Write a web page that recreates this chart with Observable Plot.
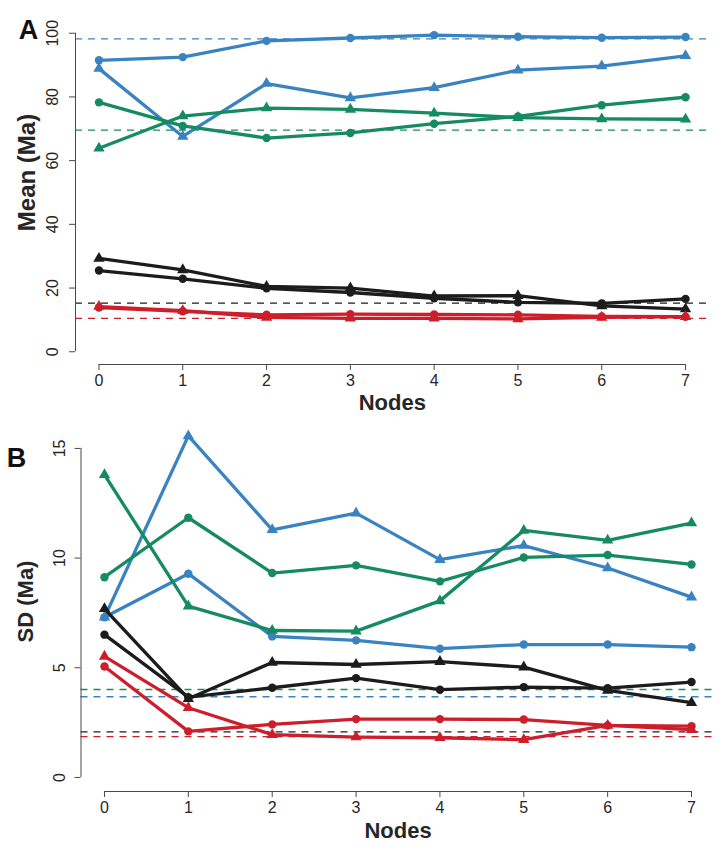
<!DOCTYPE html>
<html><head><meta charset="utf-8">
<script src="https://cdn.jsdelivr.net/npm/d3@7"></script>
<script src="https://cdn.jsdelivr.net/npm/@observablehq/plot@0.6"></script>
<style>
body{margin:0;background:#fff;}
#chart{width:720px;height:854px;}
#chart svg{display:block;}
</style></head><body><div id="chart"></div>
<script>
// ---- data ----
const nodes = [0, 1, 2, 3, 4, 5, 6, 7];
const groups = ["set1", "set2", "set3", "set4"];
const groupColors = ["#3a83c1", "#168b62", "#1c1c1c", "#cc1f2b"];
const shapes = ["circle", "triangle"];

// Panel A: mean (Ma)
const meanBlueCircle    = [91.5, 92.5, 97.6, 98.5, 99.4, 98.9, 98.6, 98.8];
const meanBlueTriangle  = [88.9, 67.6, 84.2, 79.7, 82.9, 88.4, 89.7, 92.9];
const meanGreenCircle   = [78.3, 70.9, 67.1, 68.7, 71.6, 73.9, 77.4, 79.9];
const meanGreenTriangle = [63.9, 74.0, 76.5, 76.1, 74.9, 73.5, 73.1, 73.0];
const meanBlackCircle   = [25.5, 22.9, 19.9, 18.6, 16.8, 15.5, 15.2, 16.6];
const meanBlackTriangle = [29.3, 25.7, 20.5, 20.0, 17.5, 17.6, 14.4, 13.4];
const meanRedCircle     = [13.9, 12.7, 11.6, 11.8, 11.7, 11.6, 11.1, 11.0];
const meanRedTriangle   = [14.2, 12.9, 10.8, 10.5, 10.5, 10.3, 10.8, 11.0];
const meanRefValues     = [98.2, 69.6, 15.3, 10.5]; // blue, green, black, red
const meanTicks = [0, 20, 40, 60, 80, 100];

// Panel B: SD (Ma)
const sdBlueCircle    = [7.3, 9.29, 6.43, 6.25, 5.87, 6.06, 6.06, 5.94];
const sdBlueTriangle  = [7.3, 15.57, 11.29, 12.05, 9.93, 10.57, 9.55, 8.22];
const sdGreenCircle   = [9.13, 11.84, 9.32, 9.67, 8.94, 10.03, 10.14, 9.71];
const sdGreenTriangle = [13.8, 7.81, 6.70, 6.67, 8.05, 11.26, 10.81, 11.6];
const sdBlackCircle   = [6.51, 3.66, 4.09, 4.53, 4.00, 4.12, 4.07, 4.35];
const sdBlackTriangle = [7.69, 3.59, 5.24, 5.15, 5.28, 5.03, 3.97, 3.41];
const sdRedCircle     = [5.06, 2.10, 2.42, 2.66, 2.66, 2.64, 2.37, 2.34];
const sdRedTriangle   = [5.52, 3.18, 1.95, 1.84, 1.81, 1.72, 2.37, 2.18];
const sdRefValues     = [3.68, 4.01, 2.08, 1.86]; // blue, green, black, red
const sdTicks = [0, 5, 10, 15];

// ---- tables ----
function rows(list) {
  const out = [];
  for (const [group, shape, values] of list)
    values.forEach((v, i) => out.push({node: nodes[i], value: v, group, shape, series: group + "-" + shape}));
  return out;
}
const meanRows = rows([
  ["set1", "circle", meanBlueCircle], ["set1", "triangle", meanBlueTriangle],
  ["set2", "circle", meanGreenCircle], ["set2", "triangle", meanGreenTriangle],
  ["set3", "circle", meanBlackCircle], ["set3", "triangle", meanBlackTriangle],
  ["set4", "circle", meanRedCircle], ["set4", "triangle", meanRedTriangle]
]);
const sdRows = rows([
  ["set1", "circle", sdBlueCircle], ["set1", "triangle", sdBlueTriangle],
  ["set2", "circle", sdGreenCircle], ["set2", "triangle", sdGreenTriangle],
  ["set3", "circle", sdBlackCircle], ["set3", "triangle", sdBlackTriangle],
  ["set4", "circle", sdRedCircle], ["set4", "triangle", sdRedTriangle]
]);
const meanRefs = meanRefValues.map((v, i) => ({value: v, group: groups[i]}));
const sdRefs = sdRefValues.map((v, i) => ({value: v, group: groups[i]}));

const FONT = "'Liberation Sans', Arial, Helvetica, sans-serif";
const AXIS = "#4a4a4a";
const TXT = "#262626";
const xDomain = [-0.28, 7.28];

function panel({data, refs, ticks, yDomain, height, margins, letter, letterPos, ylab, ylabSize, ylabPos, tickDx, xlabDy}) {
  return Plot.plot({
    width: 720, height,
    marginLeft: margins[0], marginRight: margins[1], marginTop: margins[2], marginBottom: margins[3],
    x: {domain: xDomain},
    y: {domain: yDomain},
    color: {type: "ordinal", domain: groups, range: groupColors},
    symbol: {domain: shapes, range: shapes},
    style: {fontFamily: FONT, background: "white", overflow: "visible"},
    marks: [
      Plot.ruleY(refs, {y: "value", stroke: "group", strokeWidth: 1.3, strokeDasharray: "7,6"}),
      Plot.line(data, {x: "node", y: "value", z: "series", stroke: "group", strokeWidth: 3.3}),
      Plot.dot(data, {x: "node", y: "value", fill: "group", symbol: "shape", r: 4.2, stroke: "none"}),
      // axes
      Plot.ruleX([xDomain[0]], {y1: ticks[0], y2: ticks[ticks.length - 1], stroke: AXIS}),
      Plot.ruleY([yDomain[0]], {x1: nodes[0], x2: nodes[nodes.length - 1], stroke: AXIS}),
      Plot.axisY({ticks, tickSize: 6, stroke: AXIS, fill: "none"}),
      Plot.axisX({ticks: nodes, tickSize: 6, stroke: AXIS, fill: "none"}),
      Plot.text(ticks, {y: d => d, text: d => String(d), frameAnchor: "left", textAnchor: "middle", dx: tickDx, rotate: -90, fontSize: 16, fill: TXT}),
      Plot.text(nodes, {x: d => d, text: d => String(d), frameAnchor: "bottom", textAnchor: "middle", dy: 21, fontSize: 16, fill: TXT}),
      Plot.text(["Nodes"], {text: d => d, frameAnchor: "bottom", textAnchor: "middle", dy: xlabDy, fontSize: 22, fontWeight: "bold", fill: TXT}),
      Plot.text([ylab], {text: d => d, frameAnchor: "left", textAnchor: "middle", dx: ylabPos[0], dy: ylabPos[1], rotate: -90, fontSize: ylabSize, fontWeight: "bold", fill: TXT}),
      Plot.text([letter], {text: d => d, frameAnchor: "top-left", textAnchor: "middle", dx: letterPos[0], dy: letterPos[1], fontSize: 27, fontWeight: "bold", fill: "#111"})
    ]
  });
}

const chart = document.getElementById("chart");
chart.append(panel({
  data: meanRows, refs: meanRefs, ticks: meanTicks, yDomain: [-4, 104], height: 426,
  margins: [75, 11.5, 20, 62], letter: "A", letterPos: [-47, -1],
  ylab: "Mean (Ma)", ylabSize: 24, ylabPos: [-48, -20], tickDx: -23, xlabDy: 45
}));
chart.append(panel({
  data: sdRows, refs: sdRefs, ticks: sdTicks, yDomain: [-0.64, 16], height: 428,
  margins: [80.5, 5.5, 0, 63], letter: "B", letterPos: [-64.5, 21],
  ylab: "SD (Ma)", ylabSize: 22, ylabPos: [-55.5, -7.5], tickDx: -21, xlabDy: 46
}));
</script></body></html>
